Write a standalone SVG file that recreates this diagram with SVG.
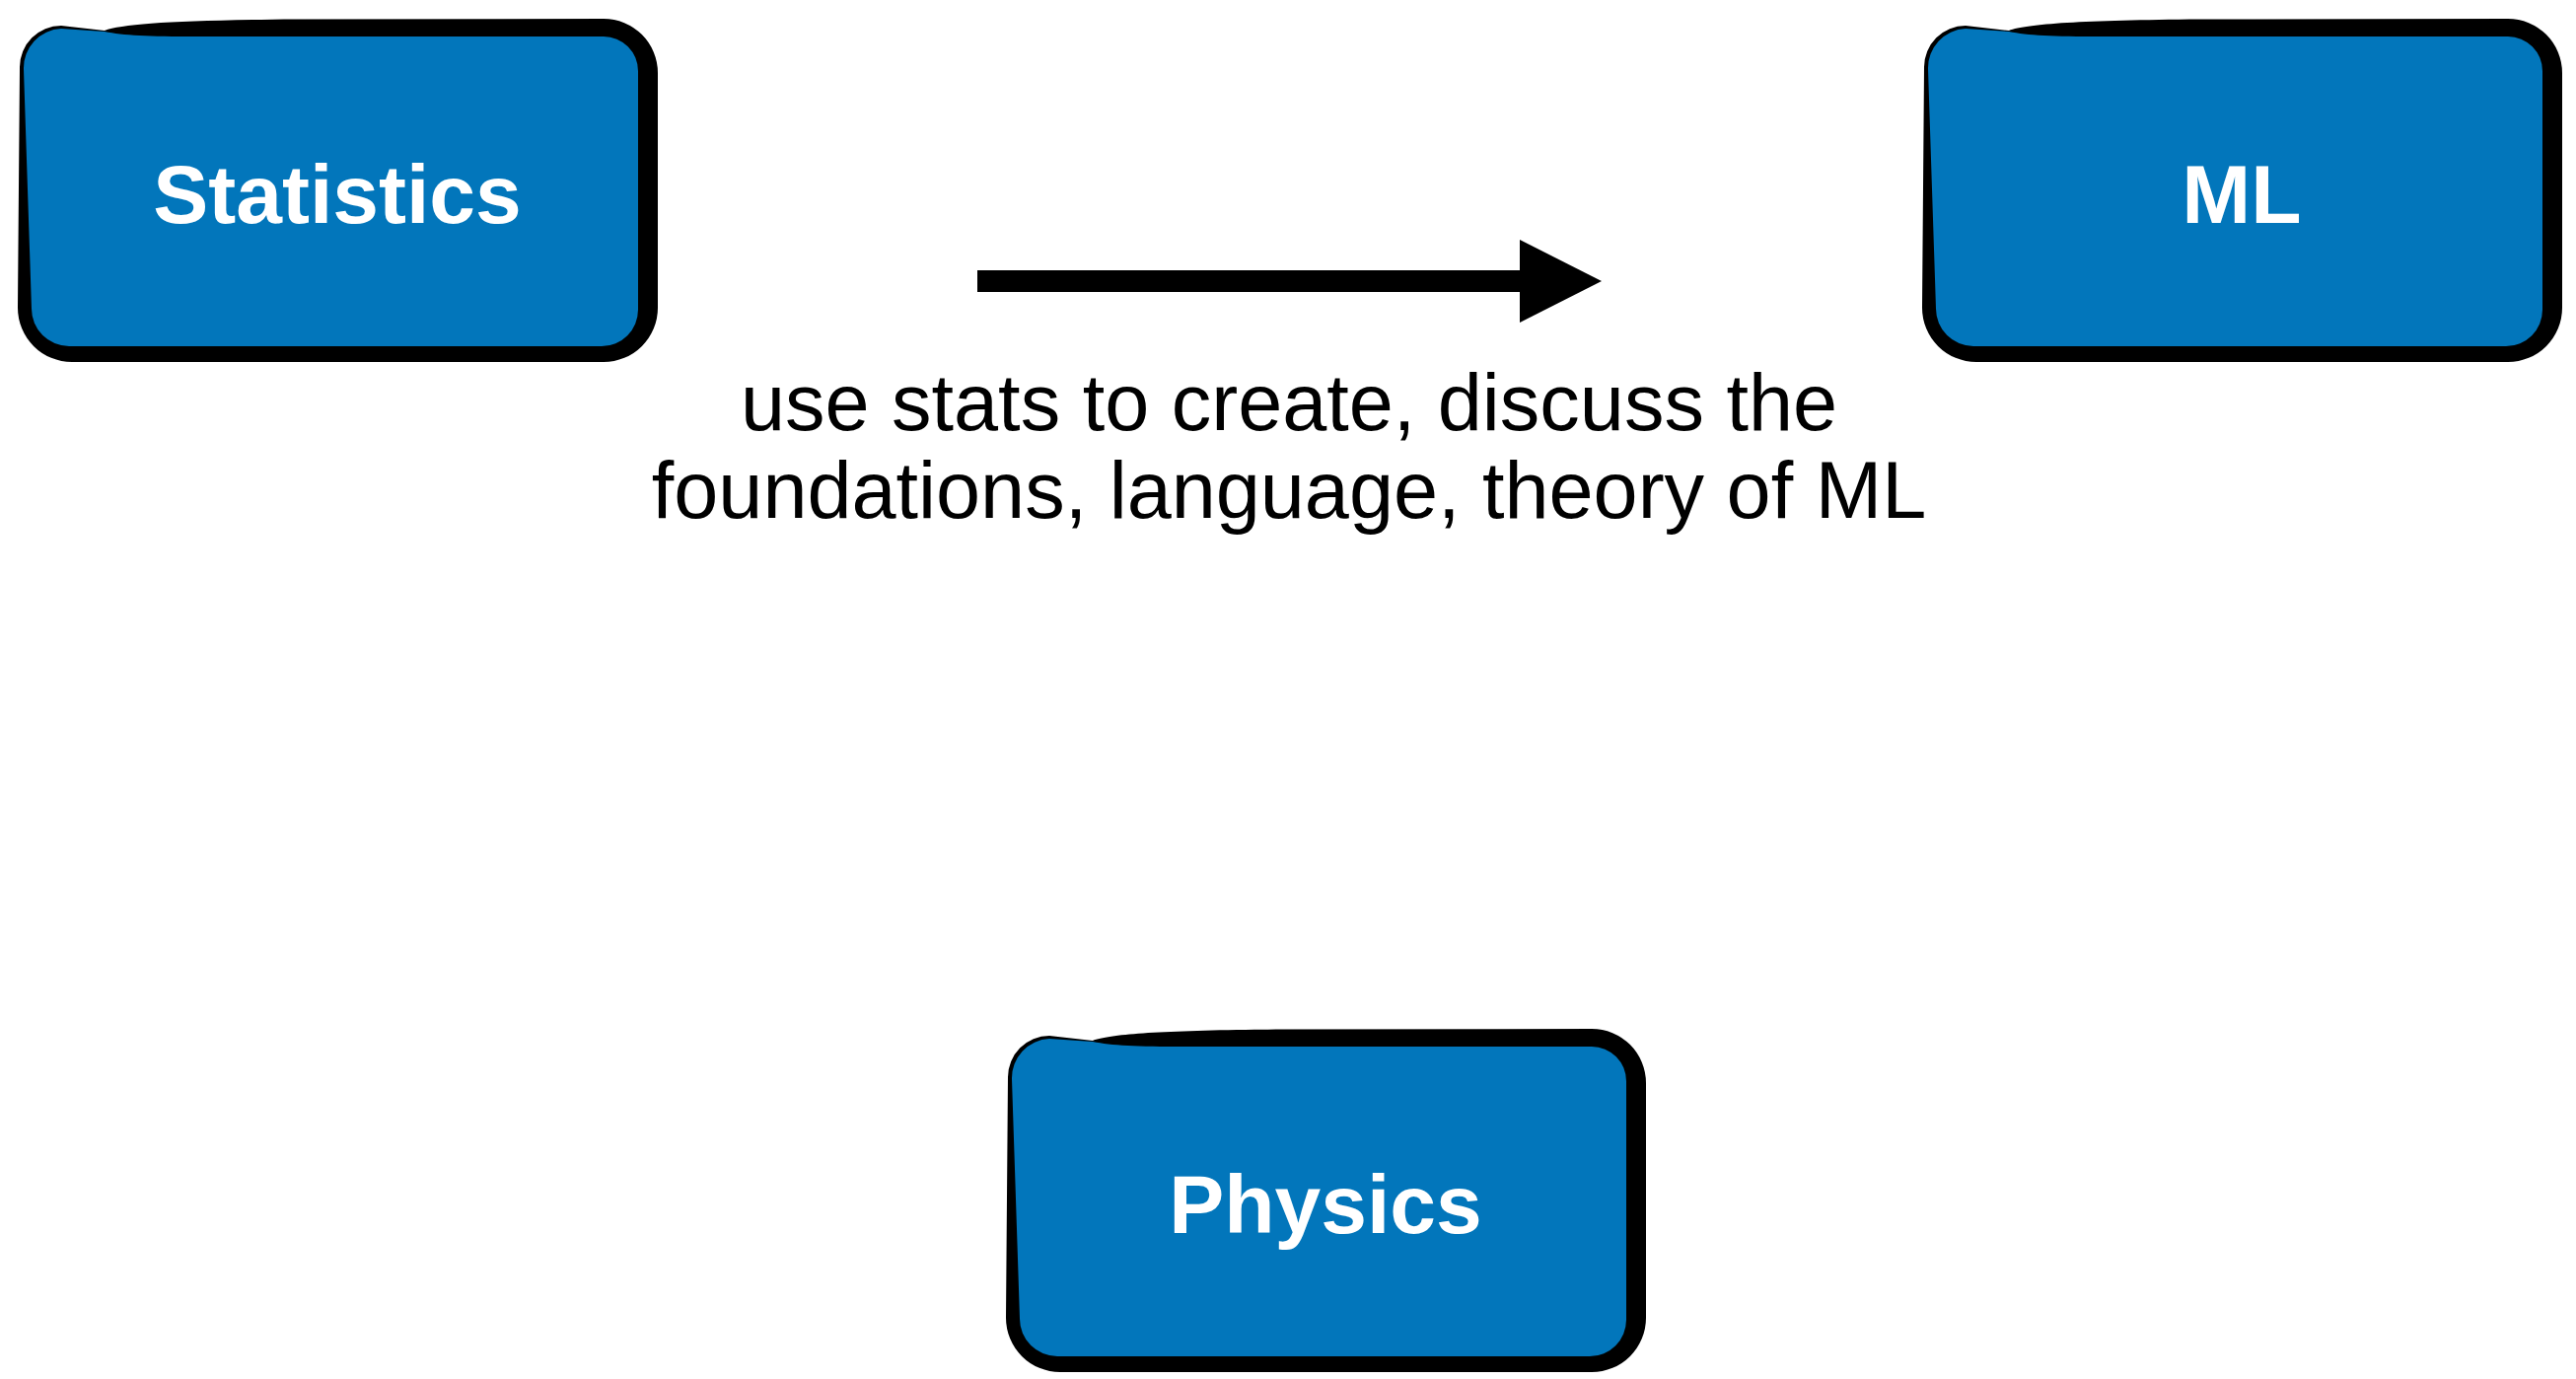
<svg xmlns="http://www.w3.org/2000/svg" xmlns:xlink="http://www.w3.org/1999/xlink" width="2612" height="1398" viewBox="0 0 2612 1398">
  <style>
    .node-label { font-family: "Liberation Sans", Arial, Helvetica, sans-serif; font-size: 84px; font-weight: bold; fill: #ffffff; text-anchor: middle; }
    .edge-label { font-family: "Liberation Sans", Arial, Helvetica, sans-serif; font-size: 81px; fill: #000000; text-anchor: middle; }
    .outline { fill: #000000; }
    .fill { fill: #0276BB; }
    .shaft { stroke: #000000; stroke-width: 22; fill: none; }
  </style>
  <defs>
    <g id="box">
      <path class="outline" d="M 62,26 L 106,31 C 125,24 180,20.5 300,19.5 L 612,19 A 55 55 0 0 1 667,74 L 667,312 A 55 55 0 0 1 612,367 L 73,367 A 55 55 0 0 1 18,312 L 20,68 A 42 42 0 0 1 62,26 Z"/>
      <path class="fill" d="M 62,29 L 106,32 C 125,36 150,37 200,37 L 612,37 A 35 35 0 0 1 647,72 L 647,314 A 37 37 0 0 1 610,351 L 70,351 A 38 38 0 0 1 32,313 L 24,70 A 40 40 0 0 1 62,29 Z"/>
    </g>
    <marker id="arrowhead" markerUnits="userSpaceOnUse" viewBox="0 0 84 84" refX="0" refY="42" markerWidth="84" markerHeight="84" orient="auto">
      <path d="M 0,0 L 83,42 L 0,84 Z" fill="#000000"/>
    </marker>
  </defs>
  <rect width="2612" height="1398" fill="#ffffff"/>

  <g id="connectors">
    <g id="edge-statistics-ml">
      <path class="shaft" d="M 991,285 L 1541,285" marker-end="url(#arrowhead)"/>
      <text class="edge-label" x="1307" y="436">use stats to create, discuss the</text>
      <text class="edge-label" x="1307" y="525">foundations, language, theory of ML</text>
    </g>
  </g>

  <g id="node-statistics">
    <use href="#box" xlink:href="#box"/>
    <text class="node-label" x="342" y="226">Statistics</text>
  </g>

  <g id="node-ml" transform="translate(1931,0)">
    <use href="#box" xlink:href="#box"/>
    <text class="node-label" x="342" y="226">ML</text>
  </g>

  <g id="node-physics" transform="translate(1002,1024)">
    <use href="#box" xlink:href="#box"/>
    <text class="node-label" x="342" y="226">Physics</text>
  </g>
</svg>
